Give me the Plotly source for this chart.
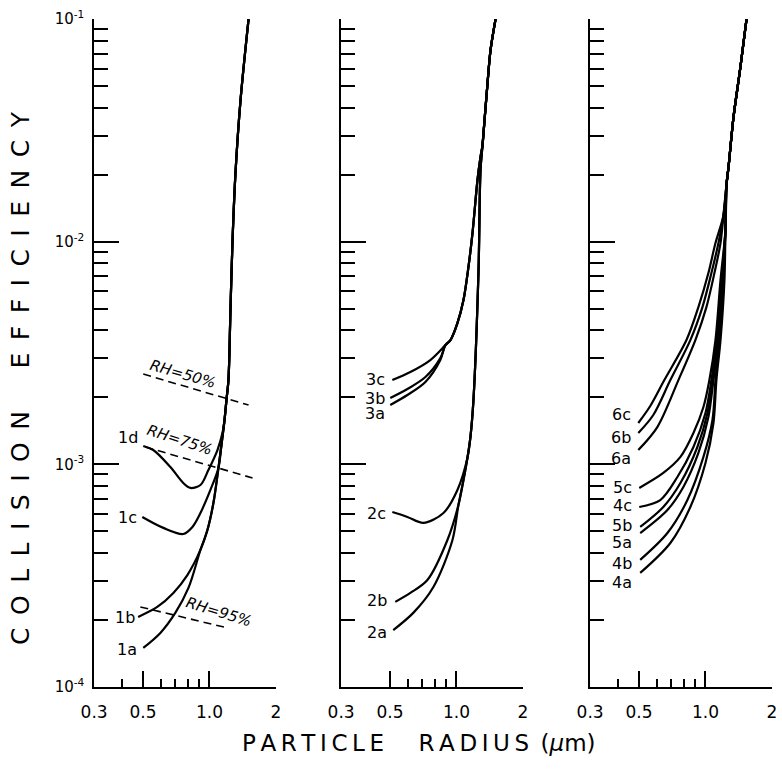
import math
import plotly.graph_objects as go

W, H = 782, 772

# ---------------- data (radius in micrometres, collision efficiency) ----------------
# Left panel: curves 1a-1d
L_trunk_r = [1.170, 1.194, 1.219, 1.245, 1.272, 1.312, 1.383, 1.504]
L_trunk_E = [1.581e-3, 1.944e-3, 2.39e-3, 4.93e-3, 1.006e-2, 2.032e-2, 4.324e-2, 1.0e-1]
L_low_r = [1.098, 1.133]
L_low_E = [9.62e-4, 1.221e-3]
L_ab_r = [0.910, 0.979, 1.042]
L_ab_E = [4.123e-4, 5.07e-4, 6.70e-4]
c1a_r = [0.501, 0.599, 0.700, 0.803]
c1a_E = [1.496e-4, 1.748e-4, 2.15e-4, 2.783e-4]
c1b_r = [0.475, 0.580, 0.686, 0.794]
c1b_E = [2.062e-4, 2.286e-4, 2.643e-4, 3.18e-4]
c1c_r = [0.496, 0.618, 0.761, 0.837, 0.910, 1.010]
c1c_E = [5.80e-4, 5.18e-4, 4.864e-4, 5.23e-4, 6.04e-4, 7.67e-4]
c1d_r = [0.501, 0.556, 0.665, 0.761, 0.820, 0.910, 0.989, 1.087, 1.145]
c1d_E = [1.209e-3, 1.159e-3, 9.72e-4, 8.24e-4, 7.83e-4, 8.07e-4, 9.43e-4, 1.159e-3, 1.382e-3]

# Relative-humidity dashed lines (left panel)
rh50_r = [0.501, 1.504]
rh50_E = [2.543e-3, 1.846e-3]
rh75_r = [0.512, 1.568]
rh75_E = [1.196e-3, 8.68e-4]
rh95_r = [0.486, 1.207]
rh95_E = [2.286e-4, 1.840e-4]

# Middle panel: curves 2a-2c, 3a-3c
M_trunk_r = [1.3125, 1.326, 1.383, 1.427, 1.504]
M_trunk_E = [2.716e-2, 3.074e-2, 5.16e-2, 7.25e-2, 1.0e-1]
M2_r = [1.121, 1.157, 1.194, 1.259, 1.285]
M2_E = [1.067e-3, 1.327e-3, 1.944e-3, 7.46e-3, 2.097e-2]
M2_low_r = [1.021, 1.076]
M2_low_E = [6.57e-4, 8.50e-4]
c2a_r = [0.517, 0.637, 0.786, 0.959]
c2a_E = [1.80e-4, 2.15e-4, 2.81e-4, 4.57e-4]
c2b_r = [0.528, 0.618, 0.738, 0.910]
c2b_E = [2.41e-4, 2.643e-4, 3.02e-4, 4.57e-4]
c2c_r = [0.512, 0.599, 0.708, 0.873, 1.010]
c2c_E = [6.10e-4, 5.80e-4, 5.45e-4, 6.04e-4, 7.67e-4]
M3_r = [0.891, 0.939, 1.010, 1.076, 1.133, 1.182, 1.245, 1.285]
M3_E = [3.43e-3, 3.615e-3, 4.31e-3, 5.47e-3, 7.69e-3, 1.093e-2, 1.89e-2, 2.398e-2]
c3a_r = [0.501, 0.599, 0.723, 0.845]
c3a_E = [1.846e-3, 2.047e-3, 2.342e-3, 2.94e-3]
c3b_r = [0.501, 0.599, 0.723, 0.845]
c3b_E = [1.984e-3, 2.178e-3, 2.466e-3, 3.00e-3]
c3c_r = [0.512, 0.618, 0.761]
c3c_E = [2.39e-3, 2.597e-3, 2.94e-3]

# Right panel: curves 4a-4c, 5a-5c, 6a-6c
R_trunk_r = [1.245, 1.272, 1.34, 1.44, 1.535]
R_trunk_E = [1.795e-2, 2.163e-2, 3.626e-2, 6.08e-2, 1.0e-1]
R6_join_r = [1.207]
R6_join_E = [1.316e-2]
R45_join_r = [1.232]
R45_join_E = [1.127e-2]
c6c_r = [0.496, 0.562, 0.651, 0.820, 0.929, 1.031, 1.110]
c6c_E = [1.533e-3, 1.827e-3, 2.39e-3, 3.615e-3, 5.085e-3, 7.23e-3, 9.86e-3]
c6b_r = [0.496, 0.580, 0.693, 0.854, 0.969, 1.064, 1.145]
c6b_E = [1.382e-3, 1.665e-3, 2.39e-3, 3.615e-3, 5.085e-3, 7.23e-3, 9.86e-3]
c6a_r = [0.496, 0.605, 0.754, 0.900, 1.010, 1.098, 1.170]
c6a_E = [1.159e-3, 1.47e-3, 2.39e-3, 3.615e-3, 5.085e-3, 7.23e-3, 9.86e-3]
c5c_r = [0.501, 0.644, 0.770, 0.882, 0.979, 1.042, 1.110, 1.170]
c5c_E = [7.83e-4, 9.14e-4, 1.079e-3, 1.382e-3, 1.808e-3, 2.39e-3, 3.615e-3, 6.72e-3]
c4c_r = [0.501, 0.624, 0.746, 0.882, 1.0, 1.064, 1.121, 1.182]
c4c_E = [6.43e-4, 6.91e-4, 8.77e-4, 1.196e-3, 1.70e-3, 2.39e-3, 3.615e-3, 6.72e-3]
c5b_r = [0.506, 0.644, 0.770, 0.919, 1.021, 1.076, 1.133, 1.194]
c5b_E = [5.23e-4, 6.43e-4, 8.24e-4, 1.196e-3, 1.70e-3, 2.39e-3, 3.615e-3, 6.72e-3]
c5a_r = [0.506, 0.672, 0.794, 0.929, 1.031, 1.087, 1.145, 1.194]
c5a_E = [4.91e-4, 6.23e-4, 7.91e-4, 1.124e-3, 1.631e-3, 2.39e-3, 3.615e-3, 6.72e-3]
c4b_r = [0.506, 0.672, 0.828, 0.979, 1.076, 1.110, 1.157, 1.207]
c4b_E = [3.72e-4, 4.91e-4, 6.91e-4, 1.079e-3, 1.581e-3, 2.39e-3, 3.615e-3, 6.72e-3]
c4a_r = [0.506, 0.693, 0.854, 1.0, 1.087, 1.121, 1.170, 1.219]
c4a_E = [3.25e-4, 4.43e-4, 6.43e-4, 1.014e-3, 1.533e-3, 2.39e-3, 3.615e-3, 6.72e-3]

# Axis ticks
y_major = [1e-4, 1e-3, 1e-2, 1e-1]
y_major_text = ["10<sup>-4</sup>", "10<sup>-3</sup>", "10<sup>-2</sup>", "10<sup>-1</sup>"]
y_minor = [m * 10.0 ** e for e in (-4, -3, -2) for m in range(2, 10)]
x_major = [0.3, 0.5, 1.0, 2.0]
x_major_text = ["0.3", "0.5", "1.0", "2"]
x_minor_left = [0.4, 0.6, 0.7, 0.8, 0.9]
x_minor_mid = [0.6, 0.7, 0.8, 0.9]
x_minor_right = [0.4, 0.6, 0.7, 0.8, 0.9]

# ---------------- figure ----------------
FONT = "DejaVu Sans"
fig = go.Figure()


def join(*parts):
    xs, ys = [], []
    for r, e in parts:
        for a, b in zip(r, e):
            if xs and abs(xs[-1] - a) < 1e-9 and abs(ys[-1] - b) < 1e-12:
                continue
            xs.append(a)
            ys.append(b)
    return xs, ys


def curve(parts, xa, ya):
    xs, ys = join(*parts)
    fig.add_trace(go.Scatter(x=xs, y=ys, mode="lines", xaxis=xa, yaxis=ya,
                             line=dict(color="black", width=2.2, shape="spline", smoothing=0.9),
                             hoverinfo="skip", showlegend=False))


def dashed(r, e, xa, ya):
    fig.add_trace(go.Scatter(x=r, y=e, mode="lines", xaxis=xa, yaxis=ya,
                             line=dict(color="black", width=1.6, dash="8px,5px"),
                             hoverinfo="skip", showlegend=False))


# left panel
LT = (L_trunk_r, L_trunk_E)
curve([(c1a_r, c1a_E), (L_ab_r, L_ab_E), (L_low_r, L_low_E), LT], "x", "y")
curve([(c1b_r, c1b_E), (L_ab_r, L_ab_E), (L_low_r, L_low_E), LT], "x", "y")
curve([(c1c_r, c1c_E), (L_low_r, L_low_E), LT], "x", "y")
curve([(c1d_r, c1d_E), LT], "x", "y")
dashed(rh50_r, rh50_E, "x", "y")
dashed(rh75_r, rh75_E, "x", "y")
dashed(rh95_r, rh95_E, "x", "y")

# middle panel
MT = (M_trunk_r, M_trunk_E)
curve([(c2a_r, c2a_E), (M2_low_r, M2_low_E), (M2_r, M2_E), MT], "x2", "y2")
curve([(c2b_r, c2b_E), (M2_low_r, M2_low_E), (M2_r, M2_E), MT], "x2", "y2")
curve([(c2c_r, c2c_E), (M2_r, M2_E), MT], "x2", "y2")
for cr, ce in [(c3a_r, c3a_E), (c3b_r, c3b_E), (c3c_r, c3c_E)]:
    curve([(cr, ce), (M3_r, M3_E), MT], "x2", "y2")

# right panel
RT = (R_trunk_r, R_trunk_E)
for cr, ce in [(c6a_r, c6a_E), (c6b_r, c6b_E), (c6c_r, c6c_E)]:
    curve([(cr, ce), (R6_join_r, R6_join_E), RT], "x3", "y3")
for cr, ce in [(c4a_r, c4a_E), (c4b_r, c4b_E), (c4c_r, c4c_E),
               (c5a_r, c5a_E), (c5b_r, c5b_E), (c5c_r, c5c_E)]:
    curve([(cr, ce), (R45_join_r, R45_join_E), RT], "x3", "y3")

# ---------------- axes ----------------
eps = 0.0006
xr = [math.log10(0.3) - eps, math.log10(2.0) + eps]
yr = [-4 - eps, -1 + eps]
ydom = [85 / H, 753 / H]
xdoms = [[94 / W, 276 / W], [341 / W, 523 / W], [590 / W, 772 / W]]
xminors = [x_minor_left, x_minor_mid, x_minor_right]

common_line = dict(showline=True, linecolor="black", linewidth=1.5, showgrid=False,
                   zeroline=False, ticks="inside", tickcolor="black", tickwidth=1.5,
                   automargin=False)

for i in range(3):
    sx = "" if i == 0 else str(i + 1)
    fig.update_layout(**{
        "xaxis" + sx: dict(type="log", range=xr, domain=xdoms[i], anchor="y" + sx,
                           tickmode="array", tickvals=x_major, ticktext=x_major_text,
                           ticklen=16, ticklabelstandoff=9,
                           tickfont=dict(family=FONT, size=17, color="black"),
                           minor=dict(tickmode="array", tickvals=xminors[i], ticks="inside",
                                      ticklen=8, tickwidth=1.5, tickcolor="black", showgrid=False),
                           **common_line),
        "yaxis" + sx: dict(type="log", range=yr, domain=ydom, anchor="x" + sx,
                           tickmode="array", tickvals=y_major, ticktext=y_major_text,
                           ticklen=25, showticklabels=(i == 0), ticklabelstandoff=5,
                           tickfont=dict(family=FONT, size=15, color="black"),
                           minor=dict(tickmode="array", tickvals=y_minor, ticks="inside",
                                      ticklen=14, tickwidth=1.5, tickcolor="black", showgrid=False),
                           **common_line),
    })

# ---------------- labels ----------------
def P(x, y):
    return x / W, 1 - y / H


ann = []


def label(text, x, y, size=17, angle=0, italic=False):
    px, py = P(x, y)
    t = "<i>%s</i>" % text if italic else text
    ann.append(dict(text=t, x=px, y=py, xref="paper", yref="paper", showarrow=False,
                    xanchor="center", yanchor="middle", textangle=angle,
                    font=dict(family=FONT, size=size, color="black")))


for t, x, y in [("1d", 128, 437), ("1c", 127, 517), ("1b", 125, 617), ("1a", 127, 649),
                ("3c", 375, 379), ("3b", 375, 398), ("3a", 375, 413),
                ("2c", 376, 513), ("2b", 377, 600), ("2a", 377, 632),
                ("6c", 621, 414), ("6b", 621, 437), ("6a", 621, 458), ("5c", 622, 487),
                ("4c", 622, 505), ("5b", 622, 525), ("5a", 622, 542), ("4b", 622, 563),
                ("4a", 622, 582)]:
    label(t, x, y, size=16)

label("RH=50%", 183, 374, size=15, angle=16, italic=True)
label("RH=75%", 180, 440, size=15, angle=18, italic=True)
label("RH=95%", 219, 612, size=15, angle=17, italic=True)

sp = "\u2002"
ytitle = sp.join("COLLISION") + "\u2003\u2002\u2009" + sp.join("EFFICIENCY")
label(ytitle, 20, 378, size=25, angle=-90)
tsp = "\u2009"
xtitle = tsp.join("PARTICLE") + "\u2003\u2002" + tsp.join("RADIUS") + "\u2002" + "(<i>\u03bc</i>m)"
label(xtitle, 419, 743, size=23)

fig.update_layout(annotations=ann, width=W, height=H,
                  margin=dict(l=0, r=0, t=0, b=0),
                  paper_bgcolor="white", plot_bgcolor="white",
                  font=dict(family=FONT, color="black"))

fig.write_html("out.html")
